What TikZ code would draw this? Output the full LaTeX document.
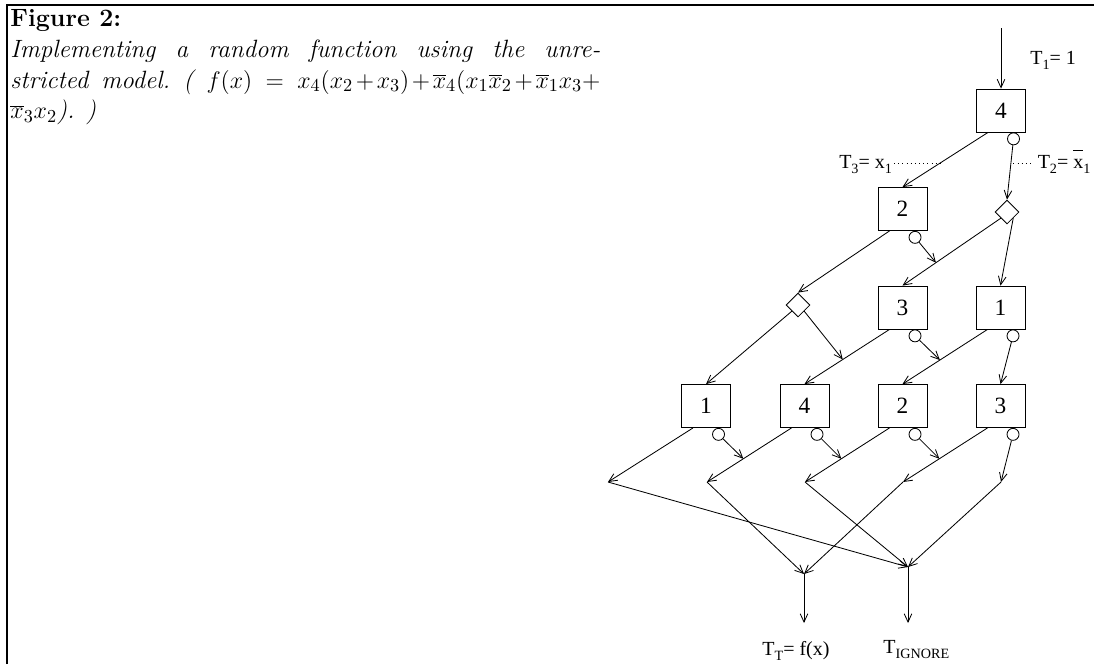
\documentclass[tikz,border=0pt]{standalone}
\usepackage{fontspec}
\usetikzlibrary{shapes.geometric,arrows.meta}
\newfontfamily\figfont{Liberation Serif}
\newcommand{\lowsub}[1]{\raisebox{-3.5pt}{\fontsize{8.5}{9}\selectfont #1}}
\newcommand{\barx}{\makebox[0pt][l]{\raisebox{10.5pt}{\rule{6pt}{0.45pt}}}x}
\newcommand{\pl}{\mkern2mu{+}\mkern2mu}

\begin{document}
\begin{tikzpicture}[x=0.6pt,y=-0.6pt,line width=0.5pt,
  gate/.style={draw, minimum width=29.4pt, minimum height=25.8pt, inner sep=0pt,
    font=\figfont\fontsize{14}{16}\selectfont},
  sel/.style={draw, diamond, minimum width=14.4pt, minimum height=14.4pt, inner sep=0pt},
  inv/.style={draw, circle, minimum size=7.2pt, inner sep=0pt, anchor=north},
  arr/.style={-{Straight Barb[length=5pt,width=4.6pt]}},
  dots/.style={dotted},
  lab/.style={inner sep=0pt, font=\figfont\fontsize{12}{14}\selectfont}]
  \useasboundingbox (0,0) rectangle (1094,664);
  % frame and caption
  \draw[line width=1.2pt] (6.5,664) -- (6.5,5) -- (1094,5);
  \node[anchor=north west, inner sep=0pt, text width=354pt, align=justify,
        font=\fontsize{15}{18.5}\selectfont] (cap) at (10,9)
    {\setlength{\parindent}{0pt}\binoppenalty=10000 \relpenalty=10000
     {\bfseries Figure 2:}\par
     {\itshape Implementing a random function using the unre-\linebreak
      stricted~model.~(~$f(x) = x_4(x_2\pl x_3)\pl\overline{x}_4(x_1\overline{x}_2\pl\overline{x}_1x_3{+}$\linebreak
      $\overline{x}_3x_2$). )}};

  % gates
  \node[gate] (g04) at (1001,110.5) {4};
  \node[gate] (g13) at (902.5,209) {2};
  \node[sel]  (s14) at (1007,212) {};
  \node[sel]  (s22) at (798,305) {};
  \node[gate] (g23) at (902.5,307.5) {3};
  \node[gate] (g24) at (1000.5,307.5) {1};
  \foreach \c/\x/\v in {1/706/1,2/804.5/4,3/902.5/2,4/1000.5/3}
    \node[gate] (g3\c) at (\x,406) {\v};
  \foreach \g in {g04,g13,g23,g24,g31,g32,g33,g34}
    \node[inv] (n\g) at ([xshift=7.5pt]\g.south) {};

  % labels
  \node[lab, anchor=base west] (t1) at (1030,64) {T\lowsub{1}= 1};
  \node[lab, anchor=base east, inner xsep=1pt] (t3) at (894,168) {T\lowsub{3}= x\lowsub{1}};
  \node[lab, anchor=base west, inner xsep=2pt] (t2) at (1034,168) {T\lowsub{2}= \barx\lowsub{1}};
  \node[lab, anchor=base west] (tf) at (762,655) {T\lowsub{T}= f(x)};
  \node[lab, anchor=base west] (ti) at (883,653) {T\lowsub{IGNORE}};

  % top
  \coordinate (in) at (1001,28);
  \draw[arr] (in) -- (g04);
  \draw[arr] ([xshift=-7.8pt]g04.south) -- (g13.north) coordinate[pos=.56] (m3);
  \draw[arr] (ng04) -- (s14.north) coordinate[pos=.34] (m2);
  \draw[dots] (t3.east |- m3) -- (m3);
  \draw[dots] ([xshift=1.5pt]m2) -- (t2.west |- m2);

  % row 1
  \draw[arr] ([xshift=-7.8pt]g13.south) -- (s22.north);
  \draw[arr] (s14.south west) -- (g23.north) coordinate[pos=.66] (j23);
  \draw[arr] (ng13) -- (j23);
  \draw[arr] (s14.south east) -- (g24.north);

  % row 2
  \draw[arr] (s22.south west) -- (g31.north);
  \draw[arr] ([xshift=-7.8pt]g23.south) -- (g32.north) coordinate[pos=.55] (j32);
  \draw[arr] (s22.south east) -- (j32);
  \draw[arr] ([xshift=-7.8pt]g24.south) -- (g33.north) coordinate[pos=.56] (j33);
  \draw[arr] (ng23) -- (j33);
  \draw[arr] (ng24) -- (g34.north);

  % row 3 and outputs
  \foreach \i/\x in {1/608,2/707,3/805,4/903,5/1001}
    \coordinate (p\i) at (\x,482);
  \draw[arr] ([xshift=-7.8pt]g31.south) -- (p1);
  \foreach \a/\b in {1/2,2/3,3/4} {
    \draw[arr] ([xshift=-7.8pt]g3\b.south) -- (p\b) coordinate[pos=.57] (k\b);
    \draw[arr] (ng3\a) -- (k\b);
  }
  \draw[arr] (ng34) -- (p5);
  \coordinate (q1) at (804,574);
  \coordinate (q2) at (908,567);
  \coordinate (o1) at (804,623);
  \coordinate (o2) at (908,623);
  \foreach \p in {p2,p4} \draw[arr] (\p) -- (q1);
  \foreach \p in {p1,p3,p5} \draw[arr] (\p) -- (q2);
  \draw[arr] (q1) -- (o1);
  \draw[arr] (q2) -- (o2);
\end{tikzpicture}
\end{document}
